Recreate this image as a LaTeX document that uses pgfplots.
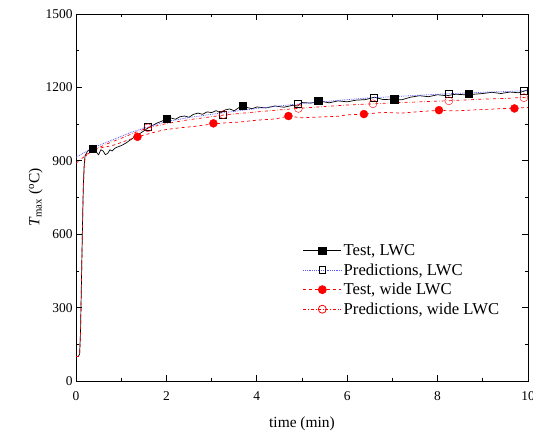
\documentclass[border=0pt]{standalone}
\usepackage{fontspec}
\setmainfont{Liberation Serif}
\usepackage{pgfplots}
\pgfplotsset{compat=1.18}
\definecolor{predblue}{RGB}{90,90,255}
\begin{document}
\begin{tikzpicture}[x=1bp,y=1bp]
\useasboundingbox (-76bp,-51bp) rectangle (457bp,381bp);
\begin{axis}[
  at={(0,0)}, anchor=south west,
  scale only axis, width=452bp, height=367bp,
  xmin=0, xmax=10, ymin=0, ymax=1500,
  xtick={0,2,4,6,8,10}, ytick={0,300,600,900,1200,1500},
  minor xtick={1,3,5,7,9}, minor ytick={150,450,750,1050,1350},
  tick align=inside, tick pos=both,
  major tick length=6bp, minor tick length=3bp,
  every tick/.style={black, line width=0.8pt},
  axis line style={line width=0.9pt},
  /pgf/number format/assume math mode=true,
  /pgf/number format/1000 sep={},
  tick label style={font=\fontsize{13.5}{16}\selectfont},
  xticklabel style={yshift=-7bp},
  label style={font=\fontsize{15.5}{18}\selectfont},
  xlabel={time (min)},
  ylabel={\textit{T}\textsubscript{max} (\textsuperscript{o}C)},
  xlabel style={yshift=-9bp},
  ylabel style={yshift=-4bp},
  legend cell align=left,
  legend style={at={(0.495,0.383)}, anchor=north west, draw=none, fill=none,
    font=\fontsize{16.7}{19}\selectfont, row sep=2.5bp},
  legend image code/.code={\draw[mark repeat=2,mark phase=2] plot coordinates {(0bp,0bp)(19bp,0bp)(38bp,0bp)};},
]
% legend images
\addlegendimage{black, solid, line width=0.8pt, mark=square*, mark size=3.6bp, mark options={solid}}
\addlegendentry{Test, LWC}
\addlegendimage{predblue, densely dotted, line width=0.8pt, mark=square, mark size=3.4bp, mark options={solid, draw=black, fill=white}}
\addlegendentry{Predictions, LWC}
\addlegendimage{red, dashed, line width=0.8pt, mark=*, mark size=4bp, mark options={solid, red}}
\addlegendentry{Test, wide LWC}
\addlegendimage{red, dash dot, line width=0.8pt, mark=o, mark size=4bp, mark options={solid, red, fill=white}}
\addlegendentry{Predictions, wide LWC}

% Test, LWC line
\addplot[black, line width=0.7pt, forget plot] coordinates {
(0,100)(0.05,100)(0.08,110)(0.1,200)(0.12,400)(0.14,600)(0.16,780)(0.18,880)(0.2,920)(0.25,938)(0.3,945)(0.35,950)(0.4,952)(0.45,935)(0.5,925)(0.55,945)(0.6,940)(0.65,925)(0.7,930)(0.75,945)(0.8,940)(0.85,950)(0.9,955)(1.0,962)(1.1,972)(1.2,985)(1.3,998)(1.4,1010)(1.5,1022)(1.6,1035)(1.7,1045)(1.8,1055)(1.9,1062)(2.0,1072)(2.1,1075)(2.2,1070)(2.3,1080)(2.4,1083)(2.5,1078)(2.6,1090)(2.7,1095)(2.8,1090)(2.9,1100)(3.0,1097)(3.1,1105)(3.2,1096)(3.3,1108)(3.4,1112)(3.5,1104)(3.6,1117)(3.7,1124)(3.8,1117)(3.9,1113)(4.0,1120)(4.2,1116)(4.4,1124)(4.6,1119)(4.8,1127)(4.9,1124)(5.0,1138)(5.2,1136)(5.4,1144)(5.6,1137)(5.8,1145)(6.0,1141)(6.2,1148)(6.4,1150)(6.6,1160)(6.8,1150)(7.0,1152)(7.2,1149)(7.4,1160)(7.6,1166)(7.8,1162)(8.0,1170)(8.2,1166)(8.4,1172)(8.6,1170)(8.8,1172)(9.0,1175)(9.2,1180)(9.4,1175)(9.6,1181)(9.8,1178)(10.0,1190)
};
% Predictions, LWC line
\addplot[predblue, densely dotted, line width=0.8pt, forget plot] coordinates {
(0,915)(0.2,935)(0.4,955)(0.6,970)(0.8,985)(1.0,1000)(1.2,1015)(1.4,1027)(1.6,1038)(1.8,1050)(2.0,1060)(2.5,1077)(3.0,1090)(3.5,1102)(4.0,1114)(4.5,1124)(5.0,1134)(5.5,1142)(6.0,1150)(6.5,1157)(7.0,1162)(7.5,1167)(8.0,1172)(8.5,1176)(9.0,1180)(9.5,1183)(10,1187)
};
% Test, wide LWC line
\addplot[red, dashed, line width=0.7pt, forget plot] coordinates {
(0,100)(0.05,100)(0.08,110)(0.1,200)(0.12,400)(0.14,600)(0.16,780)(0.18,870)(0.2,910)(0.25,930)(0.3,940)(0.4,946)(0.5,950)(0.6,955)(0.8,962)(1.0,975)(1.2,988)(1.4,1000)(1.6,1010)(1.8,1020)(2.0,1028)(2.3,1035)(2.6,1040)(3.0,1050)(3.3,1055)(3.6,1058)(4.0,1066)(4.4,1071)(4.7,1082)(5.0,1076)(5.4,1079)(5.8,1082)(6.0,1088)(6.4,1091)(6.8,1098)(7.2,1095)(7.6,1101)(8.0,1106)(8.4,1104)(8.8,1108)(9.2,1111)(9.6,1115)(10,1118)
};
% Predictions, wide LWC line
\addplot[red, dash dot, line width=0.7pt, forget plot] coordinates {
(0,890)(0.2,920)(0.4,945)(0.6,962)(0.8,978)(1.0,992)(1.3,1015)(1.6,1035)(2.0,1052)(2.5,1068)(3.0,1080)(3.3,1088)(4.0,1100)(4.5,1108)(4.9,1114)(5.5,1122)(6.0,1128)(6.6,1133)(7.0,1137)(7.5,1140)(8.0,1144)(8.3,1146)(9.0,1152)(9.5,1155)(10,1160)
};
% markers
\addplot[only marks, mark=square*, mark size=3.6bp, black, mark options={solid}, forget plot] coordinates {
(0.37,949)(2.01,1072)(3.69,1125)(5.36,1144)(7.04,1152)(8.69,1173)};
\addplot[only marks, mark=square, mark size=3.4bp, black, mark options={solid, fill=white}, forget plot] coordinates {
(1.59,1038)(3.25,1090)(4.91,1133)(6.58,1158)(8.25,1174)(9.91,1186)};
\addplot[only marks, mark=*, mark size=4bp, red, mark options={solid}, forget plot] coordinates {
(1.36,998)(3.04,1053)(4.70,1083)(6.37,1091)(8.03,1107)(9.70,1114)};
\addplot[only marks, mark=o, mark size=4bp, red, mark options={solid, fill=white}, forget plot] coordinates {
(1.59,1035)(3.26,1089)(4.92,1114)(6.57,1133)(8.25,1145)(9.91,1158)};
\end{axis}
\end{tikzpicture}
\end{document}
